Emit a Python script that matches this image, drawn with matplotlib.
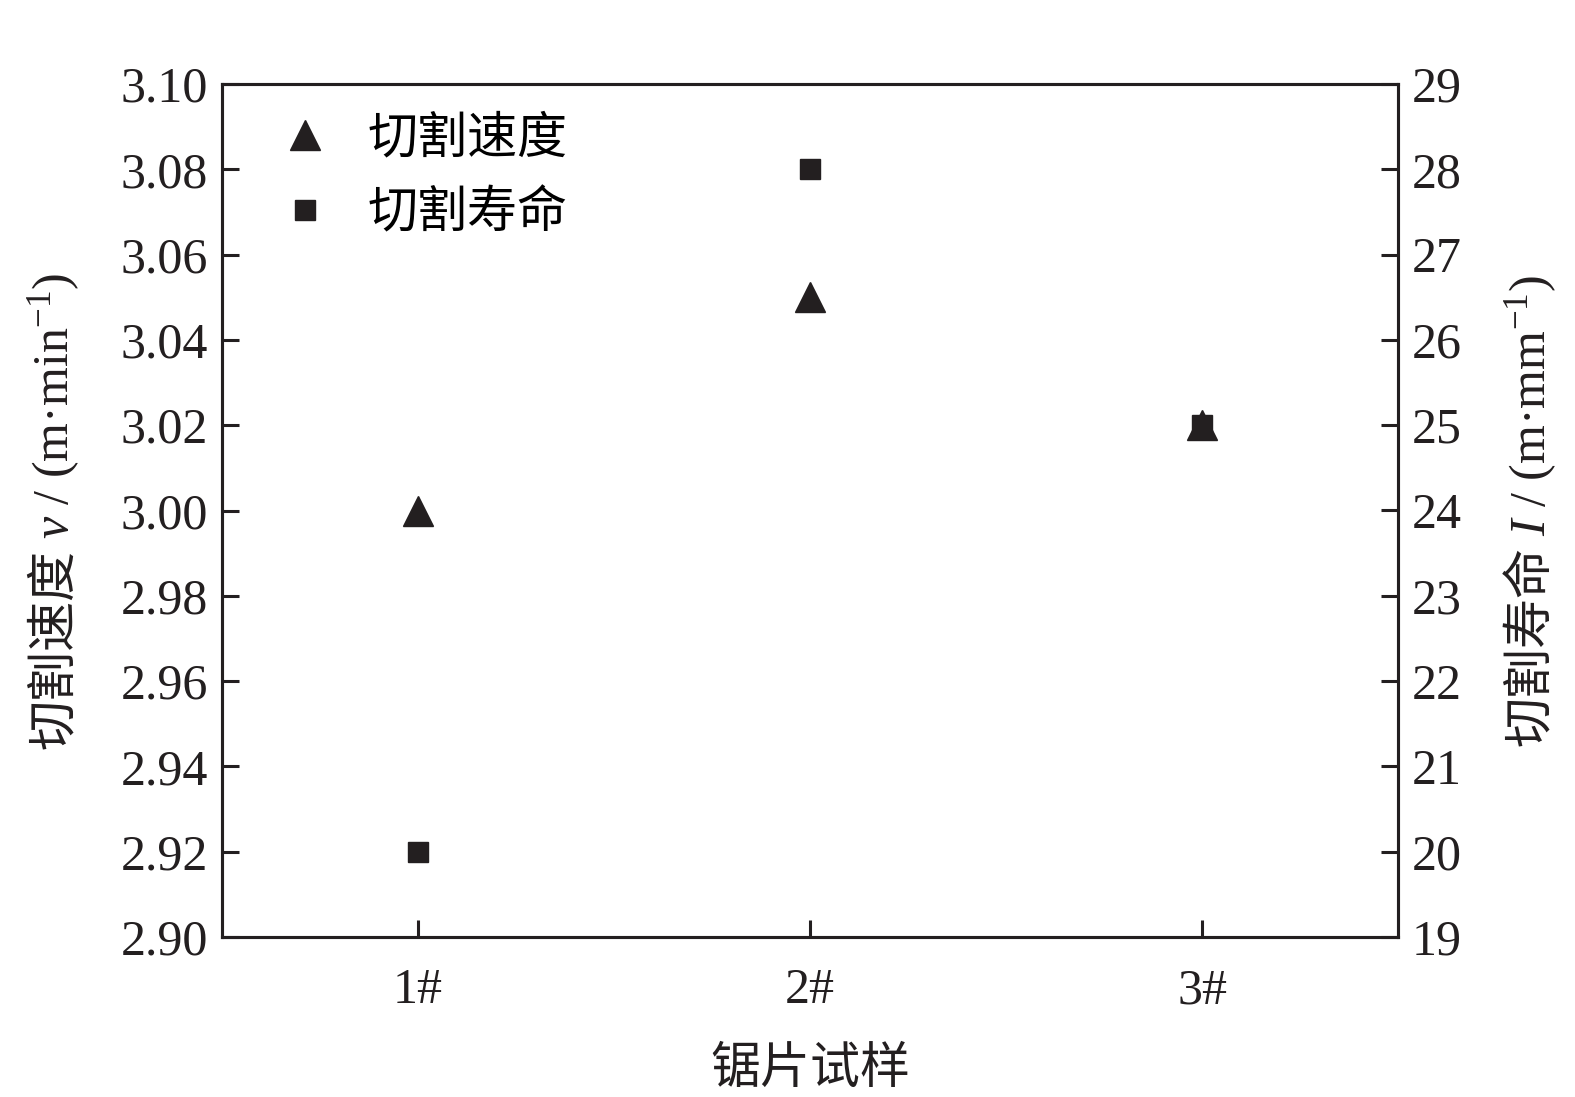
import matplotlib
matplotlib.use("Agg")
import matplotlib.pyplot as plt

plt.rcParams['font.family'] = ['Liberation Serif', 'Noto Sans CJK SC']
plt.rcParams['mathtext.fontset'] = 'custom'
plt.rcParams['mathtext.rm'] = 'Liberation Serif'
plt.rcParams['mathtext.it'] = 'Liberation Serif:italic'
plt.rcParams['axes.unicode_minus'] = True

# data
samples = ['1#', '2#', '3#']
speed = [3.00, 3.05, 3.02]      # left axis, m/min
life = [20, 28, 25]             # right axis, m/mm
speed_ticks = [2.90, 2.92, 2.94, 2.96, 2.98, 3.00, 3.02, 3.04, 3.06, 3.08, 3.10]
life_ticks = list(range(19, 30))

dark = '#231f20'
fs = 36
W, H = 1575, 1097

fig = plt.figure(figsize=(W / 100, H / 100), dpi=100)
ax = fig.add_axes([222/W, 1 - 937/H, (1398-222)/W, (937-84)/H])
ax2 = ax.twinx()

x = list(range(1, len(samples) + 1))
h1, = ax.plot(x, speed, linestyle='none', marker='^', markersize=22, color=dark, label='切割速度')
h2, = ax2.plot(x, life, linestyle='none', marker='s', markersize=14, color=dark, label='切割寿命')

ax.set_xlim(0.5, 3.5)
ax.set_ylim(2.90, 3.10)
ax2.set_ylim(19, 29)
ax.set_xticks(x)
ax.set_xticklabels(samples)
ax.set_yticks(speed_ticks)
ax.set_yticklabels(['%.2f' % t for t in speed_ticks])
ax2.set_yticks(life_ticks)

for a in (ax, ax2):
    for s in a.spines.values():
        s.set_linewidth(2.2)
        s.set_color(dark)
    a.tick_params(direction='in', length=12, width=2.2, labelsize=fs, colors=dark, pad=10)
ax.tick_params(axis='x', pad=22)
ax.tick_params(axis='y', right=False)

ax.set_xlabel('锯片试样', fontsize=fs, color=dark, labelpad=24)

ax.legend(handles=[h1, h2], loc='upper left', frameon=False, fontsize=fs,
          handlelength=1.0, handletextpad=0.75, labelspacing=0.55,
          borderaxespad=0.0, bbox_to_anchor=(0.032, 0.985))


# rotated y labels built from pieces so CJK and mathtext can mix
def vlabel(pieces, xpix, gap=10):
    r = fig.canvas.get_renderer()
    texts = []
    for s, fam in pieces:
        kw = dict(rotation=90, rotation_mode='anchor', ha='left', va='baseline',
                  fontsize=fs, color=dark)
        if fam:
            kw['family'] = fam
        texts.append(fig.text(0, 0, s, **kw))
    lens = [t.get_window_extent(r).height for t in texts]
    total = sum(lens) + gap * (len(texts) - 1)
    yc = (84 + 937) / 2
    y = H - yc - total / 2
    for t, L in zip(texts, lens):
        t.set_position((xpix / W, y / H))
        y += L + gap


fig.canvas.draw()
vlabel([('切割速度', ['Noto Sans CJK SC']), ('$v$ / (m·min$^{-1}$)', None)], 68)
vlabel([('切割寿命', ['Noto Sans CJK SC']), ('$I$ / (m·mm$^{-1}$)', None)], 1545)

fig.savefig('out.png', dpi=100)
